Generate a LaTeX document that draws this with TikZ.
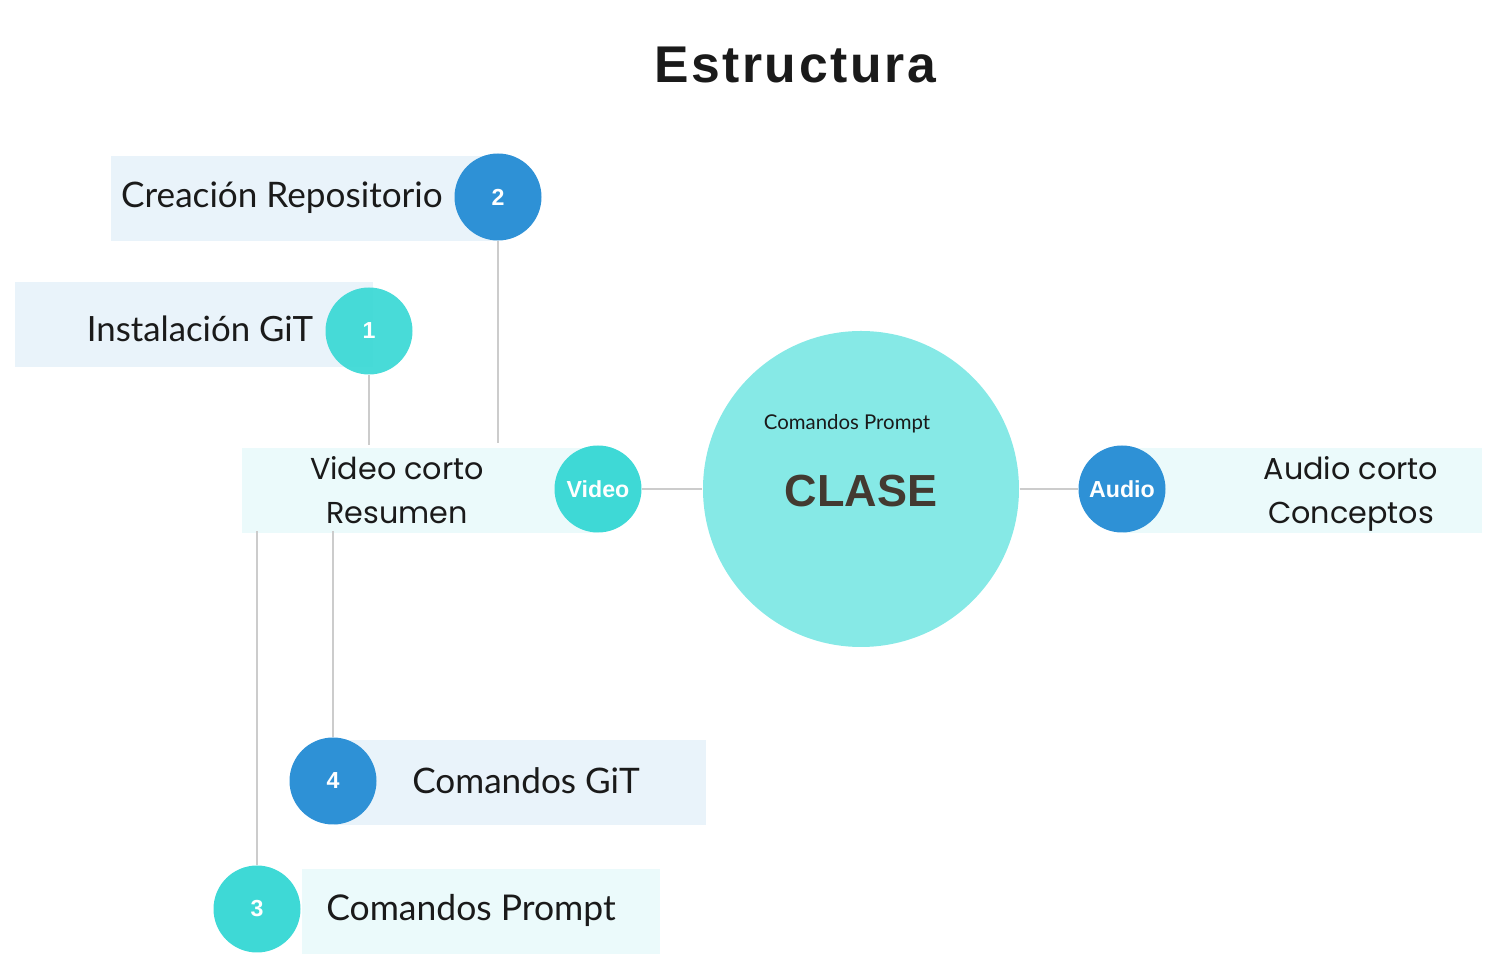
\documentclass[tikz,border=0pt]{standalone}
\usepackage{fontspec}
\setmainfont{Lato}
\newfontfamily\headfont[LetterSpace=5]{Liberation Sans}
\newfontfamily\tagfont{Liberation Sans}
\newfontfamily\roundfont{Poppins}
\definecolor{bluedot}{HTML}{2E91D6}
\definecolor{tealdot}{HTML}{3ED9D6}
\definecolor{bigdot}{HTML}{86E9E6}
\definecolor{boxblue}{HTML}{E9F3FA}
\definecolor{boxcyan}{HTML}{EBFAFB}
\definecolor{wire}{HTML}{CCCCCC}
\definecolor{ink}{HTML}{1A1A1A}
\definecolor{clase}{HTML}{433A31}
\usetikzlibrary{positioning}

\begin{document}
\begin{tikzpicture}[
	panel/.style={rectangle, inner sep=0pt, minimum height=.85cm, anchor=north west},
	dot/.style={circle, inner sep=0pt, minimum size=.87cm, text=white, font=\tagfont\bfseries\fontsize{6.6}{8}\selectfont},
	label/.style={text=ink, inner sep=0pt, align=center},
	link/.style={draw=wire, line width=.6pt}]
	\useasboundingbox (0,0) rectangle (14.97,-9.65);
	\node[font=\headfont\bfseries\fontsize{14.7}{16}\selectfont, text=ink] (title) at (7.95,-.65) {Estructura};

	\node[panel, fill=boxblue, minimum width=3.88cm] (repobox) at (1.10,-1.55) {};
	\node[panel, fill=boxblue, minimum width=3.58cm] (gitbox) at (.14,-2.81) {};
	\node[panel, fill=boxcyan, minimum width=3.57cm] (videobox) at (2.41,-4.47) {};
	\node[panel, fill=boxcyan, minimum width=3.59cm] (audiobox) at (11.22,-4.47) {};
	\node[panel, fill=boxblue, minimum width=3.72cm] (cmdgitbox) at (3.33,-7.39) {};
	\node[panel, fill=boxcyan, minimum width=3.58cm] (promptbox) at (3.01,-8.68) {};

	\node[circle, fill=bigdot, minimum size=3.16cm] (clase) at (8.61,-4.89) {};
	\node[dot, fill=bluedot] (two) at (4.98,-1.97) {2};
	\node[dot, fill=tealdot, fill opacity=.95, text opacity=1] (one) at (3.69,-3.31) {1};
	\node[dot, fill=tealdot] (video) at (5.98,-4.89) {Video};
	\node[dot, fill=bluedot] (audio) at (11.22,-4.89) {Audio};
	\node[dot, fill=bluedot] (four) at (3.33,-7.81) {4};
	\node[dot, fill=tealdot] (three) at (2.57,-9.09) {3};

	\coordinate (videotop2) at (4.98,-4.43);
	\coordinate (videotop1) at (3.69,-4.45);
	\coordinate (videobot4) at (3.33,-5.31);
	\coordinate (videobot3) at (2.57,-5.31);
	\draw[link] (two.south) -- (videotop2);
	\draw[link] (one.south) -- (videotop1);
	\draw[link] (videobot4) -- (four.north);
	\draw[link] (videobot3) -- (three.north);
	\draw[link] (video.east) -- (clase.west);
	\draw[link] (clase.east) -- (audio.west);

	\node[label, font=\fontsize{10}{11}\selectfont] (repotext) at (2.82,-1.98) {Creación Repositorio};
	\node[label, font=\fontsize{9.9}{11}\selectfont] (gittext) at (2.00,-3.29) {Instalación GiT};
	\node[label, font=\roundfont\fontsize{8.6}{12.5}\selectfont] (videotext) at (3.97,-4.90) {Video corto\\Resumen};
	\node[label, font=\roundfont\fontsize{8.6}{12.5}\selectfont] (audiotext) at (13.51,-4.94) {Audio corto\\Conceptos};
	\node[label, font=\fontsize{5.8}{7}\selectfont] (prompttag) at (8.47,-4.24) {Comandos Prompt};
	\node[label, font=\tagfont\bfseries\fontsize{12.8}{14}\selectfont, text=clase] (clasetext) at (8.61,-4.91) {CLASE};
	\node[label, font=\fontsize{10}{11}\selectfont] (cmdgittext) at (5.26,-7.81) {Comandos GiT};
	\node[label, font=\fontsize{10.1}{11}\selectfont] (prompttext) at (4.71,-9.10) {Comandos Prompt};
\end{tikzpicture}
\end{document}
